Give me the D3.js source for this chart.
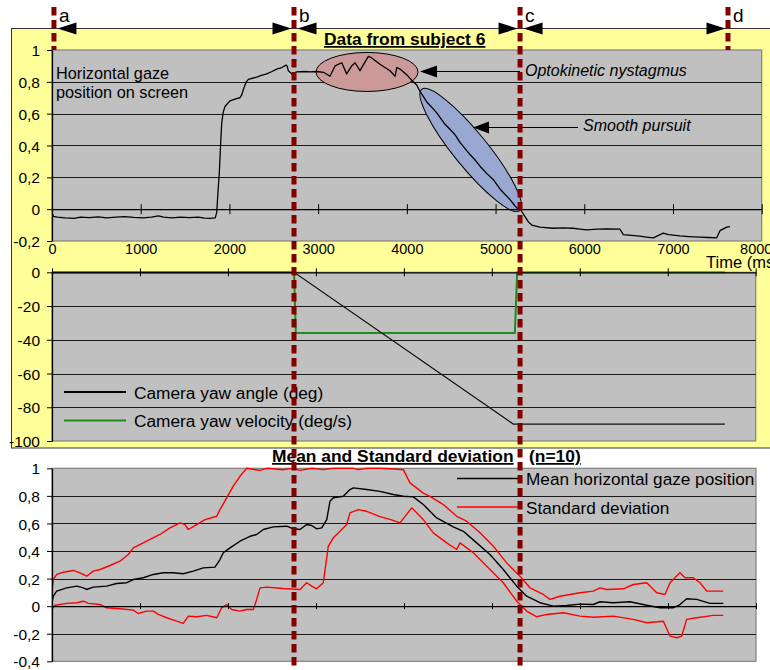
<!DOCTYPE html>
<html>
<head>
<meta charset="utf-8">
<script src="https://cdn.jsdelivr.net/npm/d3@7"></script>
<style>
  body { margin: 0; background: #fff; }
  svg { display: block; }
</style>
</head>
<body>
<svg id="chart" width="770" height="670"></svg>
<script>
// ---------------- data ----------------
const timeTicks = [0, 1000, 2000, 3000, 4000, 5000, 6000, 7000, 8000];
const gazeTicks = [-0.2, 0, 0.2, 0.4, 0.6, 0.8, 1];
const yawTicks = [-100, -80, -60, -40, -20, 0];
const meanTicks = [-0.4, -0.2, 0, 0.2, 0.4, 0.6, 0.8, 1];

// experiment phases (ms)
const phaseLabels = ["a", "b", "c", "d"];
const phaseTimes = [22, 2728, 5276, 7620];

// subject 6: horizontal gaze position on screen  [time ms, position]
const gazeSubject6 = [
  [0, -0.02], [15, -0.045], [60, -0.05], [150, -0.055], [250, -0.058], [320, -0.05],
  [420, -0.053], [520, -0.048], [620, -0.055], [720, -0.05], [820, -0.047], [920, -0.052],
  [1020, -0.055], [1120, -0.05], [1200, -0.042], [1260, -0.05], [1350, -0.055], [1450, -0.05],
  [1550, -0.053], [1650, -0.05], [1720, -0.056], [1780, -0.058], [1840, -0.055],
  [1857, -0.02], [1870, 0.1], [1886, 0.227], [1900, 0.4], [1913, 0.54], [1930, 0.61],
  [1950, 0.645], [2006, 0.68], [2080, 0.695], [2119, 0.70], [2140, 0.72], [2156, 0.75],
  [2190, 0.80], [2213, 0.815], [2308, 0.83], [2360, 0.84], [2420, 0.85], [2480, 0.865],
  [2533, 0.88], [2590, 0.89], [2638, 0.905], [2650, 0.90], [2664, 0.87], [2702, 0.85],
  [2758, 0.862], [2850, 0.865], [2908, 0.862], [2984, 0.865], [3060, 0.86], [3134, 0.835],
  [3190, 0.90], [3266, 0.92], [3322, 0.85], [3378, 0.90], [3416, 0.92], [3472, 0.87],
  [3566, 0.96], [3604, 0.95], [3697, 0.91], [3810, 0.87], [3867, 0.835], [3886, 0.89],
  [3923, 0.88], [3998, 0.845], [4055, 0.81], [4111, 0.78], [4148, 0.74], [4230, 0.67],
  [4290, 0.635], [4337, 0.605], [4420, 0.54], [4480, 0.505], [4540, 0.47], [4599, 0.42],
  [4700, 0.35], [4760, 0.315], [4825, 0.27], [4900, 0.225], [4975, 0.185], [5060, 0.12],
  [5163, 0.06], [5220, 0.02], [5256, 0.0], [5290, -0.01], [5332, -0.047], [5370, -0.08],
  [5408, -0.1], [5501, -0.113], [5648, -0.12], [5760, -0.118], [5873, -0.12], [5950, -0.125],
  [6027, -0.13], [6150, -0.126], [6250, -0.124], [6403, -0.126], [6440, -0.16], [6530, -0.165],
  [6627, -0.17], [6700, -0.175], [6778, -0.18], [6890, -0.15], [6950, -0.16], [7079, -0.168],
  [7180, -0.172], [7304, -0.176], [7400, -0.178], [7493, -0.18], [7530, -0.135],
  [7606, -0.113], [7643, -0.11]
];

// camera yaw  [time ms, value]
const yawAngle = [[0, 0], [2752, 0], [5245, -90], [7650, -90]];
const yawVelocity = [[0, 0], [2752, 0], [2772, -36], [5262, -36], [5288, 0], [7650, 0]];

// mean and standard deviation over 10 subjects  [time ms, position]
const meanGaze = [
  [0, 0.025], [15, 0.072], [53, 0.109], [167, 0.133], [281, 0.145], [356, 0.133], [394, 0.121],
  [469, 0.138], [622, 0.145], [735, 0.164], [849, 0.17], [924, 0.193], [1038, 0.206],
  [1151, 0.23], [1265, 0.242], [1378, 0.242], [1492, 0.235], [1606, 0.254], [1719, 0.278],
  [1852, 0.283], [1909, 0.338], [1947, 0.387], [2023, 0.423], [2136, 0.471], [2250, 0.507],
  [2326, 0.52], [2401, 0.556], [2515, 0.575], [2667, 0.58], [2742, 0.561], [2818, 0.556],
  [2894, 0.592], [2951, 0.585], [3008, 0.561], [3065, 0.568], [3122, 0.628], [3159, 0.761],
  [3197, 0.786], [3310, 0.797], [3386, 0.846], [3424, 0.858], [3576, 0.846], [3727, 0.833],
  [3878, 0.81], [3992, 0.797], [4106, 0.793], [4219, 0.737], [4372, 0.64], [4560, 0.575],
  [4674, 0.543], [4826, 0.459], [4977, 0.375], [5128, 0.266], [5281, 0.145], [5394, 0.072],
  [5545, 0.025], [5697, 0.0], [5849, 0.005], [6000, 0.015], [6151, 0.012], [6227, 0.032],
  [6378, 0.025], [6568, 0.032], [6758, 0.007], [6909, -0.012], [7060, -0.012], [7136, 0.012],
  [7212, 0.054], [7326, 0.049], [7477, 0.02], [7628, 0.02]
];
const sdUpper = [
  [0, 0.109], [15, 0.193], [53, 0.23], [128, 0.246], [242, 0.259], [318, 0.242], [394, 0.217],
  [469, 0.254], [545, 0.266], [659, 0.295], [773, 0.326], [867, 0.375], [924, 0.423],
  [1076, 0.471], [1227, 0.52], [1341, 0.568], [1455, 0.604], [1511, 0.592], [1549, 0.556],
  [1644, 0.592], [1739, 0.628], [1872, 0.652], [1909, 0.70], [1985, 0.786], [2060, 0.87],
  [2136, 0.942], [2213, 1.0], [2364, 0.985], [2440, 1.0], [2628, 0.99], [2742, 1.0],
  [2818, 0.985], [2951, 1.0], [3083, 0.99], [3200, 1.0], [3349, 1.0], [3424, 1.0],
  [3481, 0.99], [3576, 1.0], [3727, 1.0], [3880, 0.995], [3992, 0.99], [4068, 0.894],
  [4219, 0.82], [4295, 0.797], [4447, 0.737], [4599, 0.652], [4712, 0.616], [4864, 0.532],
  [5015, 0.435], [5167, 0.314], [5318, 0.217], [5432, 0.133], [5583, 0.085], [5659, 0.049],
  [5773, 0.072], [6000, 0.097], [6151, 0.109], [6227, 0.133], [6303, 0.121], [6492, 0.126],
  [6606, 0.157], [6758, 0.17], [6872, 0.097], [6966, 0.085], [7023, 0.17], [7136, 0.242],
  [7193, 0.206], [7288, 0.206], [7364, 0.17], [7440, 0.109], [7628, 0.109]
];
const sdLower = [
  [0, -0.024], [34, 0.007], [167, 0.02], [281, 0.025], [356, 0.036], [413, 0.02], [545, 0.012],
  [622, -0.012], [773, -0.019], [924, -0.029], [981, -0.053], [1076, -0.036], [1151, -0.036],
  [1208, -0.06], [1303, -0.084], [1417, -0.109], [1492, -0.125], [1549, -0.072], [1644, -0.077],
  [1758, -0.067], [1872, -0.084], [1928, -0.012], [1985, 0.012], [2042, -0.024], [2136, -0.036],
  [2213, -0.024], [2288, -0.024], [2326, 0.049], [2364, 0.133], [2440, 0.138], [2628, 0.128],
  [2818, 0.121], [2894, 0.17], [2951, 0.145], [3008, 0.126], [3083, 0.17], [3140, 0.435],
  [3197, 0.496], [3273, 0.543], [3349, 0.592], [3386, 0.677], [3481, 0.70], [3576, 0.688],
  [3727, 0.65], [3841, 0.63], [3955, 0.604], [4088, 0.713], [4219, 0.628], [4333, 0.532],
  [4485, 0.459], [4599, 0.411], [4636, 0.459], [4788, 0.387], [4977, 0.266], [5128, 0.17],
  [5281, 0.036], [5394, -0.036], [5508, -0.077], [5622, -0.06], [5810, -0.048], [6000, -0.072],
  [6151, -0.08], [6378, -0.072], [6606, -0.096], [6758, -0.12], [6947, -0.109], [7023, -0.217],
  [7099, -0.229], [7156, -0.217], [7212, -0.096], [7326, -0.084], [7515, -0.067], [7628, -0.067]
];

// ---------------- layout ----------------
const FONT = "'Liberation Sans', Arial, Helvetica, sans-serif";
const YELLOW = "#FFFF99";
const PLOT_BG = "#C0C0C0";
const PHASE_COLOR = "#800000";

const svg = d3.select("#chart");
const fmt = v => String(Math.round(v * 10) / 10).replace(".", ",");

// light-yellow frame holding the two subject-6 panels
svg.append("rect")
  .attr("x", 11.5).attr("y", 28.5).attr("width", 800).attr("height", 419.5)
  .attr("fill", YELLOW).attr("stroke", "#333").attr("stroke-width", 1);

// scales
const xTop = d3.scaleLinear().domain([0, 8000]).range([52, 761.7]);
const yTop = d3.scaleLinear().domain([-0.2, 1]).range([241, 50]);
const xMid = d3.scaleLinear().domain([0, 8000]).range([52, 755.7]);
const yMid = d3.scaleLinear().domain([-100, 0]).range([441, 272.3]);
const xBot = d3.scaleLinear().domain([0, 8000]).range([52, 756]);
const yBot = d3.scaleLinear().domain([-0.4, 1]).range([661.3, 468.3]);

const defs = svg.append("defs");

function plotPanel(id, x, y, yTicks, gridVals) {
  const g = svg.append("g").attr("class", "panel-" + id);
  const [x0, x1] = x.range();
  const [yb, yt] = y.range();
  g.append("rect")
    .attr("x", x0).attr("y", yt).attr("width", x1 - x0).attr("height", yb - yt)
    .attr("fill", PLOT_BG).attr("stroke", "#808080").attr("stroke-width", 1.2);
  g.append("g").selectAll("line").data(gridVals).join("line")
    .attr("x1", x0).attr("x2", x1)
    .attr("y1", d => Math.round(y(d)) + 0.5).attr("y2", d => Math.round(y(d)) + 0.5)
    .attr("stroke", "#1a1a1a").attr("stroke-width", 1);
  defs.append("clipPath").attr("id", "clip-" + id)
    .append("rect").attr("x", x0).attr("y", yt - 1).attr("width", x1 - x0).attr("height", yb - yt + 2);
  return g;
}

function yAxis(g, x, y, ticks) {
  g.append("g")
    .attr("transform", `translate(${x.range()[0]},0)`)
    .call(d3.axisLeft(y).tickValues(ticks).tickSize(5).tickSizeOuter(0).tickPadding(7).tickFormat(fmt))
    .call(s => {
      s.select(".domain").attr("stroke", "#000").attr("stroke-width", 1.3);
      s.selectAll(".tick line").attr("stroke", "#000");
      s.selectAll("text").attr("font-size", 15.5).attr("font-family", FONT).attr("fill", "#000").attr("dy", "0.36em");
    });
}

function zeroAxis(g, x, yPos, half) {
  g.append("g")
    .attr("transform", `translate(0,${yPos})`)
    .call(d3.axisBottom(x).tickValues(timeTicks).tickSize(half).tickSizeOuter(0).tickFormat(""))
    .call(s => {
      s.select(".domain").attr("stroke", "#000").attr("stroke-width", 1.2);
      s.selectAll(".tick line").attr("y1", -half).attr("stroke", "#000");
    });
}

const line = (x, y) => d3.line().x(d => x(d[0])).y(d => y(d[1]));

// ---------------- top panel: subject 6 gaze ----------------
const gTop = plotPanel("top", xTop, yTop, gazeTicks, [0.2, 0.4, 0.6, 0.8]);

// annotated regions of the gaze trace
const nystagmus = { t: 3551, v: 0.862, rx: 51, ry: 19.5 };
const pursuit = { t: 4720, v: 0.372, rx: 78, ry: 17, angle: 51 };
gTop.append("ellipse")
  .attr("cx", xTop(nystagmus.t)).attr("cy", yTop(nystagmus.v))
  .attr("rx", nystagmus.rx).attr("ry", nystagmus.ry)
  .attr("fill", "#CC9999").attr("stroke", "#000").attr("stroke-width", 1);
gTop.append("ellipse")
  .attr("rx", pursuit.rx).attr("ry", pursuit.ry)
  .attr("transform", `translate(${xTop(pursuit.t)},${yTop(pursuit.v)}) rotate(${pursuit.angle})`)
  .attr("fill", "#98A8D0").attr("stroke", "#000").attr("stroke-width", 1);

gTop.append("path").datum(gazeSubject6)
  .attr("clip-path", "url(#clip-top)")
  .attr("d", line(xTop, yTop))
  .attr("fill", "none").attr("stroke", "#000").attr("stroke-width", 1.3).attr("stroke-linejoin", "round");

yAxis(gTop, xTop, yTop, gazeTicks);
zeroAxis(gTop, xTop, yTop(0), 5);

// time labels under the panel (the last one nudged inwards to stay in the frame)
gTop.append("g")
  .attr("transform", `translate(0,${yTop.range()[0]})`)
  .call(d3.axisBottom(xTop).tickValues(timeTicks).tickSize(0).tickPadding(3).tickFormat(d => String(d)))
  .call(s => {
    s.select(".domain").remove();
    s.selectAll("text").attr("font-size", 14.5).attr("font-family", FONT).attr("fill", "#000")
      .attr("dx", d => d === 8000 ? -6 : 0);
  });

gTop.append("text").attr("x", 706).attr("y", 268)
  .attr("font-family", FONT).attr("font-size", 16.5).text("Time (ms)");

gTop.append("text").attr("font-family", FONT).attr("font-size", 16.3)
  .selectAll("tspan").data(["Horizontal gaze", "position on screen"]).join("tspan")
  .attr("x", 56).attr("y", (d, i) => 79 + i * 19).text(d => d);

gTop.append("text").attr("x", 324).attr("y", 45)
  .attr("font-family", FONT).attr("font-size", 17.4).attr("font-weight", "bold")
  .attr("text-decoration", "underline").text("Data from subject 6");

// ---------------- middle panel: camera yaw ----------------
const gMid = plotPanel("mid", xMid, yMid, yawTicks, [-20, -40, -60, -80]);

gMid.append("path").datum(yawVelocity)
  .attr("clip-path", "url(#clip-mid)")
  .attr("d", line(xMid, yMid))
  .attr("fill", "none").attr("stroke", "#1E8C1E").attr("stroke-width", 2);
gMid.append("path").datum(yawAngle)
  .attr("clip-path", "url(#clip-mid)")
  .attr("d", line(xMid, yMid))
  .attr("fill", "none").attr("stroke", "#111").attr("stroke-width", 1.3);

yAxis(gMid, xMid, yMid, yawTicks);
zeroAxis(gMid, xMid, yMid(0), 4);

const midLegend = [
  { label: "Camera yaw angle (deg)", color: "#000", y: 392 },
  { label: "Camera yaw velocity (deg/s)", color: "#1E8C1E", y: 420.5 }
];
const ml = gMid.append("g").selectAll("g").data(midLegend).join("g");
ml.append("line").attr("x1", 64).attr("x2", 126).attr("y1", d => d.y).attr("y2", d => d.y)
  .attr("stroke", d => d.color).attr("stroke-width", 2);
ml.append("text").attr("x", 134).attr("y", d => d.y + 6.5)
  .attr("font-family", FONT).attr("font-size", 17.3).text(d => d.label);

// ---------------- bottom panel: mean and SD ----------------
const gBot = plotPanel("bot", xBot, yBot, meanTicks, [0.8, 0.6, 0.4, 0.2, -0.2]);

[sdUpper, sdLower].forEach(s => {
  gBot.append("path").datum(s)
    .attr("clip-path", "url(#clip-bot)")
    .attr("d", line(xBot, yBot))
    .attr("fill", "none").attr("stroke", "#FF0000").attr("stroke-width", 1.4).attr("stroke-linejoin", "round");
});
gBot.append("path").datum(meanGaze)
  .attr("clip-path", "url(#clip-bot)")
  .attr("d", line(xBot, yBot))
  .attr("fill", "none").attr("stroke", "#000").attr("stroke-width", 1.4).attr("stroke-linejoin", "round");

yAxis(gBot, xBot, yBot, meanTicks);
zeroAxis(gBot, xBot, yBot(0), 3);

const botLegend = [
  { label: "Mean horizontal gaze position", color: "#000", y: 478.5 },
  { label: "Standard deviation", color: "#FF0000", y: 507 }
];
const bl = gBot.append("g").selectAll("g").data(botLegend).join("g");
bl.append("line").attr("x1", 457).attr("x2", 518).attr("y1", d => d.y).attr("y2", d => d.y)
  .attr("stroke", d => d.color).attr("stroke-width", 1.6);
bl.append("text").attr("x", 526).attr("y", d => d.y + 6.5)
  .attr("font-family", FONT).attr("font-size", 17.2).text(d => d.label);

gBot.append("text").attr("x", 272).attr("y", 462)
  .attr("font-family", FONT).attr("font-size", 17.4).attr("font-weight", "bold")
  .attr("text-decoration", "underline").text("Mean and Standard deviation");
gBot.append("text").attr("x", 529).attr("y", 462)
  .attr("font-family", FONT).attr("font-size", 17.4).attr("font-weight", "bold")
  .attr("text-decoration", "underline").text("(n=10)");

// ---------------- annotation arrows ----------------
function arrowHead(g, tipX, y, dir, len, half) {
  g.append("path")
    .attr("d", `M${tipX},${y} L${tipX - dir * len},${y - half} L${tipX - dir * len},${y + half} Z`)
    .attr("fill", "#000");
}

const ann = svg.append("g");
const okTip = xTop(nystagmus.t) + nystagmus.rx + 2;
const okY = 71.5;
ann.append("line").attr("x1", xTop(phaseTimes[2])).attr("x2", okTip + 10)
  .attr("y1", okY).attr("y2", okY).attr("stroke", "#000").attr("stroke-width", 1);
arrowHead(ann, okTip, okY, -1, 17, 6);
ann.append("text").attr("x", 525).attr("y", 76)
  .attr("font-family", FONT).attr("font-size", 16).attr("font-style", "italic")
  .text("Optokinetic nystagmus");

const spTip = 473, spY = 127.5;
ann.append("line").attr("x1", 578).attr("x2", spTip + 10)
  .attr("y1", spY).attr("y2", spY).attr("stroke", "#000").attr("stroke-width", 1);
arrowHead(ann, spTip, spY, -1, 16, 6);
ann.append("text").attr("x", 583).attr("y", 131)
  .attr("font-family", FONT).attr("font-size", 16).attr("font-style", "italic")
  .text("Smooth pursuit");

// ---------------- phase markers ----------------
const phaseX = phaseTimes.map(t => xTop(t));
const pg = svg.append("g");
pg.selectAll("line").data(phaseX).join("line")
  .attr("x1", d => d).attr("x2", d => d)
  .attr("y1", 7).attr("y2", (d, i) => (i === 1 || i === 2) ? 670 : 50)
  .attr("stroke", PHASE_COLOR).attr("stroke-width", 5)
  .attr("stroke-dasharray", "8.5,4.5");

pg.selectAll("text").data(phaseLabels).join("text")
  .attr("x", (d, i) => phaseX[i] + 5).attr("y", 22)
  .attr("font-family", FONT).attr("font-size", 19).text(d => d);

// double-headed arrows between consecutive phases along the frame edge
for (let i = 0; i < phaseX.length - 1; i++) {
  arrowHead(pg, phaseX[i] + 3.5, 28.5, -1, 19, 6);
  arrowHead(pg, phaseX[i + 1] - 2.5, 28.5, 1, 19, 6);
}
</script>
</body>
</html>
